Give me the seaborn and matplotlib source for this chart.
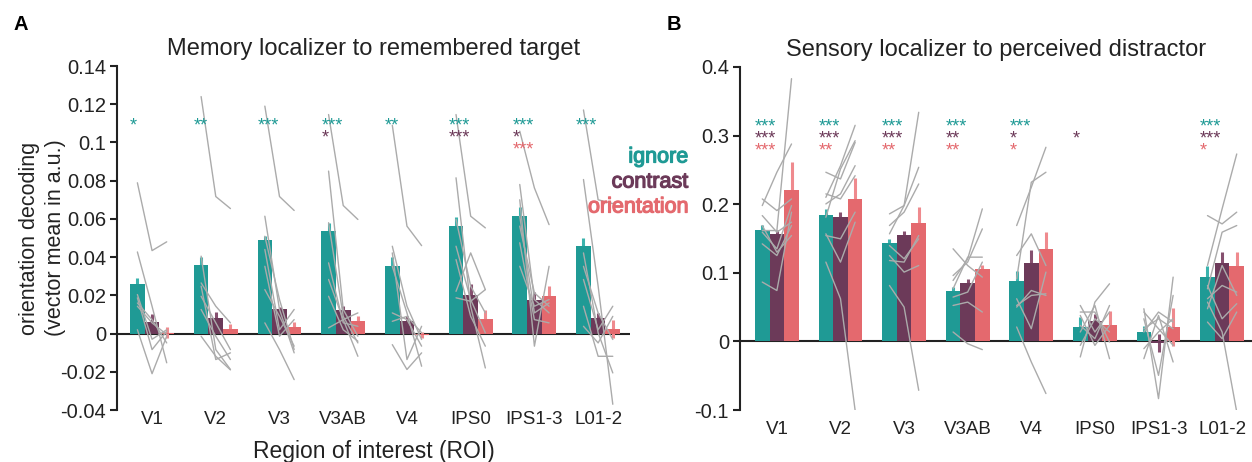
import numpy as np
import pandas as pd
import seaborn as sns
import matplotlib.pyplot as plt
import matplotlib.patheffects as pe
from matplotlib.transforms import blended_transform_factory

# ---------------------------------------------------------------- data
rois = ['V1', 'V2', 'V3', 'V3AB', 'V4', 'IPS0', 'IPS1-3', 'L01-2']
conditions = ['ignore', 'contrast', 'orientation']

# A: memory localizer -> remembered target
mean_a_ignore = [0.026, 0.036, 0.0487, 0.0539, 0.0356, 0.0565, 0.0616, 0.046]
mean_a_contrast = [0.0063, 0.0082, 0.0126, 0.0122, 0.0064, 0.0204, 0.0178, 0.0083]
mean_a_orientation = [0.0005, 0.0026, 0.0033, 0.0068, -0.0006, 0.0078, 0.0199, 0.0025]
sem_a_ignore = [0.003, 0.004, 0.0025, 0.004, 0.0044, 0.0045, 0.0045, 0.004]
sem_a_contrast = [0.004, 0.003, 0.0015, 0.002, 0.0026, 0.0053, 0.004, 0.0026]
sem_a_orientation = [0.003, 0.0025, 0.003, 0.0025, 0.0015, 0.0045, 0.005, 0.0048]

# B: sensory localizer -> perceived distractor
mean_b_ignore = [0.1626, 0.1844, 0.1437, 0.0738, 0.0883, 0.0204, 0.0141, 0.094]
mean_b_contrast = [0.1568, 0.1815, 0.1553, 0.0854, 0.1146, 0.030, -0.0025, 0.115]
mean_b_orientation = [0.2208, 0.2077, 0.1728, 0.1058, 0.135, 0.0243, 0.0214, 0.11]
sem_b_ignore = [0.0073, 0.008, 0.005, 0.005, 0.014, 0.015, 0.008, 0.016]
sem_b_contrast = [0.005, 0.0068, 0.0054, 0.006, 0.018, 0.010, 0.013, 0.015]
sem_b_orientation = [0.04, 0.030, 0.023, 0.006, 0.025, 0.020, 0.028, 0.021]

# individual subjects: (ignore, contrast, orientation) per ROI
subjects_a = [
    [(0.0789, 0.0434, 0.048), (0.0427, 0.0143, -0.0153), (0.0204, -0.003, 0.002),
     (0.0187, -0.0084, 0.0012), (0.002, -0.021, -0.0014), (0.016, 0.0073, -0.0049),
     (0.0143, 0.0056, -0.0005)],
    [(0.124, 0.0717, 0.0654), (0.0405, -0.0084, -0.0188), (0.0248, -0.0136, -0.0101),
     (0.0195, 0.0056, -0.0084), (0.0126, -0.0014, -0.0136), (-0.0014, -0.0119, -0.019),
     (0.0265, 0.0143, 0.0056)],
    [(0.119, 0.0717, 0.0644), (0.0614, 0.0126, -0.0101), (0.0509, 0.0178, -0.0084),
     (0.0056, -0.0084, -0.0241), (0.044, 0.002, 0.0126), (0.023, 0.009, -0.0066),
     (0.0352, -0.0014, 0.0073)],
    [(0.1146, 0.067, 0.0597), (0.085, 0.0126, -0.0014), (0.058, 0.009, -0.0049),
     (0.037, 0.0056, 0.0038), (0.0283, 0.0073, -0.0119), (0.003, 0.0073, 0.0108),
     (0.0195, 0.002, -0.004)],
    [(0.109, 0.0562, 0.046), (0.0457, 0.0143, -0.0031), (0.0422, -0.0136, 0.0038),
     (-0.0058, -0.0188, -0.0101), (0.0108, 0.0073, -0.0066), (0.0352, 0.0108, -0.0171),
     (0.0064, 0.009, 0.0004)],
    [(0.1146, 0.0614, 0.0553), (0.0815, 0.0143, -0.018), (0.0221, 0.0422, 0.023),
     (0.0457, 0.0178, 0.0004), (0.0187, 0.0169, 0.023), (0.0387, 0.009, -0.0066),
     (0.0597, 0.0248, 0.0108)],
    [(0.1059, 0.0762, 0.057), (0.078, 0.0178, 0.0108), (0.070, -0.0066, 0.0352),
     (0.0562, 0.0213, 0.0143), (0.0352, 0.0143, 0.0178), (0.0475, 0.0073, 0.0056),
     (0.0614, 0.0108, 0.016)],
    [(0.117, 0.070, 0.068), (0.0806, 0.0248, -0.037), (0.0422, 0.0004, -0.0206),
     (0.0283, 0.002, 0.0143), (0.0143, -0.0119, -0.0119), (0.0352, 0.0108, -0.0031),
     (0.0038, -0.0049, 0.009)],
]

subjects_b = [
    [(0.1616, 0.1616, 0.383), (0.198, 0.2466, 0.2878), (0.2077, 0.1907, 0.2077),
     (0.1834, 0.1592, 0.1738), (0.1422, 0.1252, 0.1689), (0.1592, 0.1349, 0.198),
     (0.0865, 0.0742, 0.1884), (0.1689, 0.130, 0.1543)],
    [(0.1156, 0.0622, -0.1004), (0.2466, 0.2368, 0.290), (0.210, 0.256, 0.315),
     (0.181, 0.2514, 0.2926), (0.1543, 0.1495, 0.1884), (0.1568, 0.1156, 0.1738),
     (0.2004, 0.215, 0.2562), (0.215, 0.2077, 0.2416)],
    [(0.0815, 0.050, -0.0713), (0.1568, 0.198, 0.334), (0.1859, 0.198, 0.2538),
     (0.1252, 0.101, 0.1106), (0.1179, 0.1156, 0.1543), (0.1689, 0.1884, 0.2295),
     (0.1397, 0.1204, 0.1495)],
    [(0.0137, -0.0034, -0.012), (0.0524, 0.0573, 0.0428), (0.0646, 0.0719, 0.1156),
     (0.0888, 0.1204, 0.1932), (0.135, 0.1106, 0.0937), (0.0767, 0.1228, 0.1228),
     (0.096, 0.1156, 0.164)],
    [(0.021, -0.030, -0.076), (0.1689, 0.2247, 0.283), (0.1252, 0.1568, 0.1106),
     (0.050, 0.0742, 0.067), (0.0622, 0.0185, 0.101), (0.0913, 0.232, 0.2466),
     (0.0524, 0.067, 0.0694)],
    [(-0.0227, 0.0573, 0.084), (0.0524, 0.0137, 0.0428), (0.0378, -0.0058, 0.0233),
     (0.0137, 0.0524, -0.0252), (-0.0058, 0.033, 0.0137), (0.0428, 0.0428, -0.001),
     (0.0233, 0.004, 0.0524)],
    [(0.0476, -0.0834, 0.0937), (-0.0252, 0.0378, -0.030), (0.033, -0.0495, 0.067),
     (0.0185, 0.033, 0.0185), (-0.0106, 0.0137, 0.033), (0.0428, 0.0185, -0.0058),
     (0.0137, 0.0428, 0.0282)],
    [(0.1106, 0.1932, 0.2732), (0.1834, 0.1713, 0.1884), (0.0767, 0.1592, 0.1689),
     (0.0622, 0.0815, 0.0719), (0.0815, 0.033, 0.0549), (0.0282, 0.004, 0.0428),
     (0.0573, 0.0137, -0.1028), (0.0476, 0.1106, 0.067)],
]

# significance markers per condition
stars_a_ignore = ['*', '**', '***', '***', '**', '***', '***', '***']
stars_a_contrast = ['', '', '', '*', '', '***', '*', '']
stars_a_orientation = ['', '', '', '', '', '', '***', '']
stars_b_ignore = ['***', '***', '***', '***', '***', '', '', '***']
stars_b_contrast = ['***', '***', '***', '**', '*', '*', '', '***']
stars_b_orientation = ['***', '**', '**', '**', '*', '', '', '*']

yticks_a = [-0.04, -0.02, 0, 0.02, 0.04, 0.06, 0.08, 0.1, 0.12, 0.14]
yticklabels_a = ['-0.04', '-0.02', '0', '0.02', '0.04', '0.06', '0.08', '0.1', '0.12', '0.14']
yticks_b = [-0.1, 0, 0.1, 0.2, 0.3, 0.4]
yticklabels_b = ['-0.1', '0', '0.1', '0.2', '0.3', '0.4']

# ---------------------------------------------------------------- style
sns.set_style('ticks')
plt.rcParams['font.family'] = ['Liberation Sans', 'DejaVu Sans']
plt.rcParams['text.color'] = '#222222'
plt.rcParams['axes.labelcolor'] = '#222222'
plt.rcParams['xtick.color'] = '#222222'
plt.rcParams['ytick.color'] = '#222222'

bar_colors = ['#1f9a95', '#6c3a59', '#e4696e']
err_colors = ['#3bb3ad', '#86506f', '#ef8a8e']
subject_color = '#ababab'
ink = '#222222'

W, H = 1252, 462
fig = plt.figure(figsize=(W / 100, H / 100), dpi=100)
axA = fig.add_axes([117 / W, 52 / H, 513 / W, 344 / H])
axB = fig.add_axes([740 / W, 52 / H, 512 / W, 343 / H])


def draw_panel(ax, means, sems, subjects, stars, ylim, yticks, yticklabels, xlim, xpad):
    df = pd.DataFrame({
        'roi': rois * 3,
        'condition': np.repeat(conditions, len(rois)),
        'value': np.concatenate(means),
    })
    sns.barplot(data=df, x='roi', y='value', hue='condition', order=rois,
                hue_order=conditions, palette=bar_colors, saturation=1,
                width=0.69, gap=0, errorbar=None, legend=False, ax=ax,
                zorder=2, linewidth=0)

    centers = [[p.get_x() + p.get_width() / 2 for p in c.patches] for c in ax.containers]
    lefts = [p.get_x() for p in ax.containers[0].patches]

    # error bars, drawn behind the bars
    for k in range(3):
        m = np.asarray(means[k])
        s = np.asarray(sems[k])
        ax.vlines(centers[k], m - s, m + s, color=err_colors[k], lw=2.2, zorder=1.5)
    ax.axhline(0, color=ink, lw=1.5, zorder=1)

    # individual subjects
    for r, subs in enumerate(subjects):
        xs = [centers[k][r] for k in range(3)]
        for s in subs:
            ax.plot(xs, s, color=subject_color, lw=1.0, zorder=3)

    # significance stars
    trans = blended_transform_factory(ax.transData, ax.transAxes)
    rows_y = [0.826, 0.791, 0.756]
    for k in range(3):
        for r, s in enumerate(stars[k]):
            if s:
                ax.text(lefts[r], rows_y[k], s, transform=trans, color=bar_colors[k],
                        fontsize=13, ha='left', va='center')

    ax.set_xlim(*xlim)
    ax.set_ylim(*ylim)
    ax.set_yticks(yticks)
    ax.set_yticklabels(yticklabels)
    sns.despine(ax=ax, bottom=True)
    ax.spines['left'].set_bounds(*ylim)
    ax.spines['left'].set_linewidth(1.5)
    ax.spines['left'].set_color(ink)
    ax.tick_params(axis='y', direction='out', length=5, width=1.5, labelsize=14.5, pad=3)
    ax.tick_params(axis='x', length=0, labelsize=13.5, pad=xpad)
    ax.set_xlabel('')
    ax.set_ylabel('')


draw_panel(axA,
           [mean_a_ignore, mean_a_contrast, mean_a_orientation],
           [sem_a_ignore, sem_a_contrast, sem_a_orientation],
           subjects_a,
           [stars_a_ignore, stars_a_contrast, stars_a_orientation],
           (-0.04, 0.14), yticks_a, yticklabels_a, (-0.55, 7.5), 0.5)
draw_panel(axB,
           [mean_b_ignore, mean_b_contrast, mean_b_orientation],
           [sem_b_ignore, sem_b_contrast, sem_b_orientation],
           subjects_b,
           [stars_b_ignore, stars_b_contrast, stars_b_orientation],
           (-0.1, 0.4), yticks_b, yticklabels_b, (-0.58, 7.47), 8)

axA.set_title('Memory localizer to remembered target', fontsize=17, pad=8)
axB.set_title('Sensory localizer to perceived distractor', fontsize=17, pad=8)
axA.set_xlabel('Region of interest (ROI)', fontsize=16.5)
axA.xaxis.set_label_coords(0.5, -0.088)
axA.set_ylabel('orientation decoding\n(vector mean in a.u.)', fontsize=15.5,
               linespacing=1.3)
axA.yaxis.set_label_coords(-0.1, 0.5)

# condition labels
for k, (name, y) in enumerate(zip(conditions, [157, 182, 207])):
    fig.text(688 / W, 1 - y / H, name, color=bar_colors[k], fontsize=15.5,
             ha='right', va='center',
             path_effects=[pe.withStroke(linewidth=0.9, foreground=bar_colors[k])])

fig.text(13 / W, 1 - 25 / H, 'A', fontsize=14.5, fontweight='bold', va='center', color='black')
fig.text(667 / W, 1 - 25 / H, 'B', fontsize=14.5, fontweight='bold', va='center', color='black')

fig.savefig('out.png', dpi=100)
